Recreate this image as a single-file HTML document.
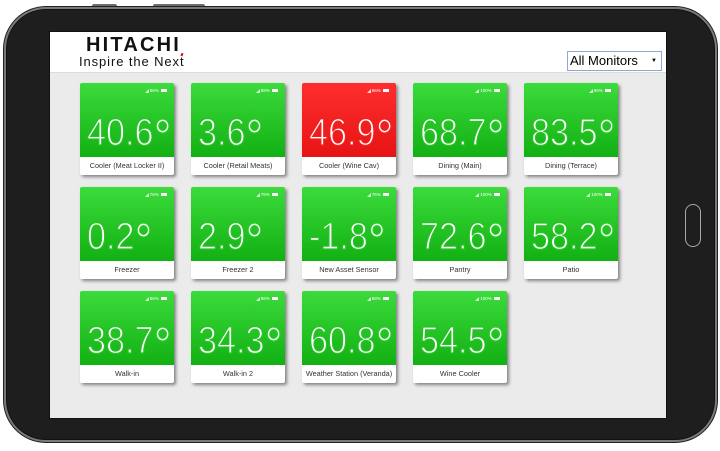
<!DOCTYPE html>
<html>
<head>
<meta charset="utf-8">
<style>
  html,body{margin:0;padding:0;}
  body{width:720px;height:451px;background:#fff;position:relative;overflow:hidden;font-family:"Liberation Sans",Arial,sans-serif;}
  .btn{position:absolute;top:4px;height:4px;background:#6d6d6d;border-radius:2px 2px 0 0;}
  .tablet{position:absolute;left:4px;top:7px;width:709px;height:431px;border-radius:42px;background:#1e1e1e;border:2px solid #7a7a7a;box-shadow:0 0 0 1px #222, inset 0 0 0 1px #111;}
  .screen{position:absolute;left:50px;top:32px;width:616px;height:386px;background:#ebebeb;overflow:hidden;outline:1px solid #111;}
  .header{position:absolute;left:0;top:0;width:616px;height:40px;background:#fff;border-bottom:1px solid #dcdcdc;}
  .logo1{position:absolute;left:36px;top:3px;font-weight:bold;font-size:20px;letter-spacing:2.2px;color:#111;line-height:20px;}
  .logo2{position:absolute;left:29px;top:23px;font-size:13px;color:#111;line-height:14px;letter-spacing:0.9px;}
  .sel{position:absolute;left:517px;top:19px;width:91px;height:18px;border:1px solid #8fa6d6;background:#fff;font-size:13px;line-height:18px;color:#000;padding-left:2px;}
  .sel .ar{position:absolute;right:4px;top:0;font-size:6px;}
  .card{position:absolute;width:94px;height:92px;border-radius:2px;background:#fff;box-shadow:2px 2px 3px rgba(0,0,0,0.45);overflow:hidden;}
  .g{position:absolute;left:0;top:0;width:94px;height:74px;background:linear-gradient(#3cdb3c,#12b012);}
  .r{background:linear-gradient(#ff2e2e,#e61414);}
  .t{position:absolute;left:7px;top:31px;font-size:38px;line-height:38px;height:38px;color:#fff;white-space:nowrap;transform:scaleX(0.9);transform-origin:0 0;-webkit-text-stroke:1.3px #26c226;}
  .t .d{font-size:50px;line-height:0;position:relative;top:9px;margin-left:0px;-webkit-text-stroke:1.2px #2ccc2c;}
  .rt{-webkit-text-stroke:1.3px #f42020;}
  .rt .d{-webkit-text-stroke:1.2px #f82525;}
  .lab{position:absolute;left:0;top:74px;width:94px;height:18px;line-height:18px;text-align:center;font-size:7.3px;color:#333;white-space:nowrap;}
  .ic{position:absolute;right:7px;top:5px;font-size:4.5px;line-height:5px;color:#fff;white-space:nowrap;}
  .ic .bar{display:inline-block;width:0;height:0;border-left:4px solid transparent;border-bottom:4px solid #fff;opacity:.8;margin-right:1px;vertical-align:-0.5px;}
  .ic .bat{display:inline-block;width:6px;height:3px;background:#fff;margin-left:1px;vertical-align:0px;}
  .home{position:absolute;left:685px;top:204px;width:14px;height:41px;border:1.5px solid #a8a8a8;border-radius:8px;}
</style>
</head>
<body>
<div class="btn" style="left:92px;width:25px;"></div>
<div class="btn" style="left:153px;width:52px;"></div>
<div class="tablet"></div>
<div class="home"></div>
<div class="screen">
  <div class="header">
    <div class="logo1">HITACHI</div>
    <div class="logo2">Inspire the Nex<span style="position:relative">t<span style="position:absolute;left:1px;top:-1px;width:1.5px;height:3px;background:#d00;transform:rotate(25deg);"></span></span></div>
    <div class="sel">All Monitors<span class="ar">&#9660;</span></div>
  </div>

  <!-- row 1 -->
  <div class="card" style="left:30px;top:51px;"><div class="g"></div><div class="ic"><span class="bar"></span>96% <span class="bat"></span></div><div class="t">40.6<span class="d">°</span></div><div class="lab">Cooler (Meat Locker II)</div></div>
  <div class="card" style="left:141px;top:51px;"><div class="g"></div><div class="ic"><span class="bar"></span>88% <span class="bat"></span></div><div class="t">3.6<span class="d">°</span></div><div class="lab">Cooler (Retail Meats)</div></div>
  <div class="card" style="left:252px;top:51px;"><div class="g r"></div><div class="ic"><span class="bar"></span>96% <span class="bat"></span></div><div class="t rt">46.9<span class="d">°</span></div><div class="lab">Cooler (Wine Cav)</div></div>
  <div class="card" style="left:363px;top:51px;"><div class="g"></div><div class="ic"><span class="bar"></span>100% <span class="bat"></span></div><div class="t">68.7<span class="d">°</span></div><div class="lab">Dining (Main)</div></div>
  <div class="card" style="left:474px;top:51px;"><div class="g"></div><div class="ic"><span class="bar"></span>96% <span class="bat"></span></div><div class="t">83.5<span class="d">°</span></div><div class="lab">Dining (Terrace)</div></div>

  <!-- row 2 -->
  <div class="card" style="left:30px;top:155px;"><div class="g"></div><div class="ic"><span class="bar"></span>76% <span class="bat"></span></div><div class="t">0.2<span class="d">°</span></div><div class="lab">Freezer</div></div>
  <div class="card" style="left:141px;top:155px;"><div class="g"></div><div class="ic"><span class="bar"></span>76% <span class="bat"></span></div><div class="t">2.9<span class="d">°</span></div><div class="lab">Freezer 2</div></div>
  <div class="card" style="left:252px;top:155px;"><div class="g"></div><div class="ic"><span class="bar"></span>76% <span class="bat"></span></div><div class="t">-1.8<span class="d">°</span></div><div class="lab">New Asset Sensor</div></div>
  <div class="card" style="left:363px;top:155px;"><div class="g"></div><div class="ic"><span class="bar"></span>100% <span class="bat"></span></div><div class="t">72.6<span class="d">°</span></div><div class="lab">Pantry</div></div>
  <div class="card" style="left:474px;top:155px;"><div class="g"></div><div class="ic"><span class="bar"></span>100% <span class="bat"></span></div><div class="t">58.2<span class="d">°</span></div><div class="lab">Patio</div></div>

  <!-- row 3 -->
  <div class="card" style="left:30px;top:259px;"><div class="g"></div><div class="ic"><span class="bar"></span>96% <span class="bat"></span></div><div class="t">38.7<span class="d">°</span></div><div class="lab">Walk-in</div></div>
  <div class="card" style="left:141px;top:259px;"><div class="g"></div><div class="ic"><span class="bar"></span>96% <span class="bat"></span></div><div class="t">34.3<span class="d">°</span></div><div class="lab">Walk-in 2</div></div>
  <div class="card" style="left:252px;top:259px;"><div class="g"></div><div class="ic"><span class="bar"></span>88% <span class="bat"></span></div><div class="t">60.8<span class="d">°</span></div><div class="lab">Weather Station (Veranda)</div></div>
  <div class="card" style="left:363px;top:259px;"><div class="g"></div><div class="ic"><span class="bar"></span>100% <span class="bat"></span></div><div class="t">54.5<span class="d">°</span></div><div class="lab">Wine Cooler</div></div>
</div>
</body>
</html>
